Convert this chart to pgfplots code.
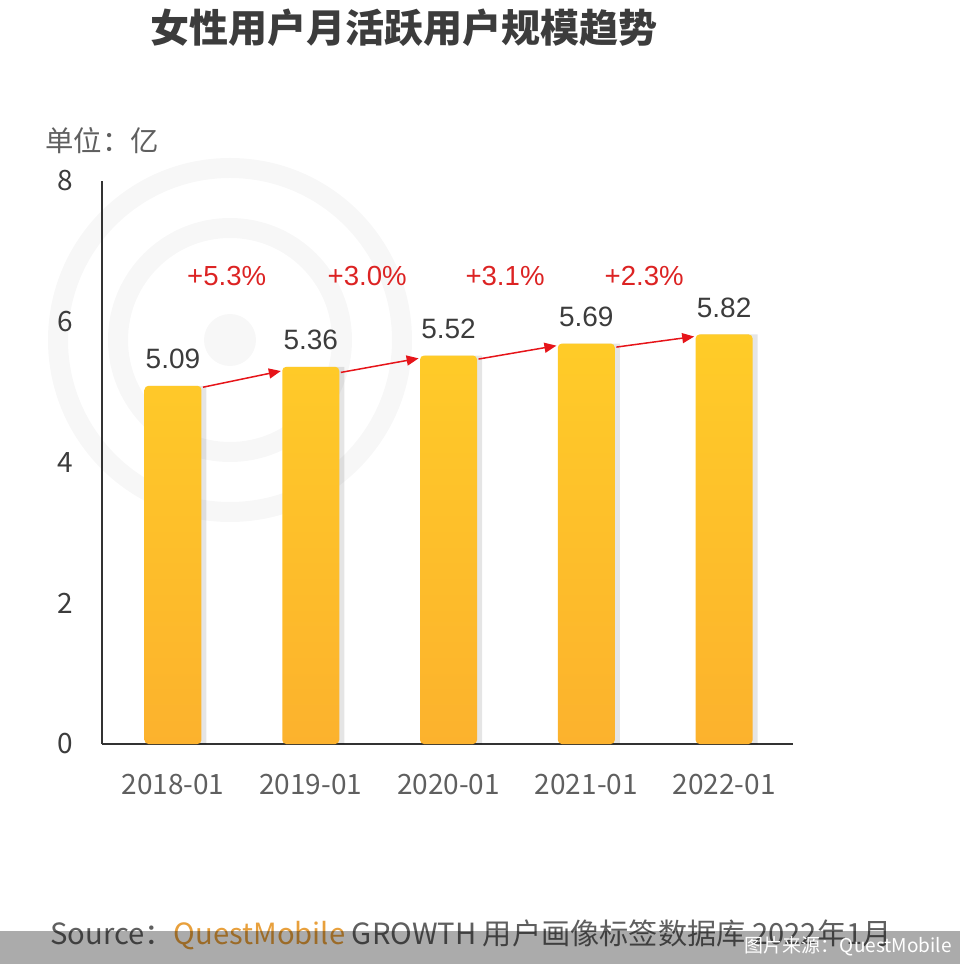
\documentclass[border=0pt]{standalone}
\usepackage{fontspec}
\usepackage{pgfplots}
\pgfplotsset{compat=1.18}
\usetikzlibrary{arrows.meta}
\setmainfont{Noto Sans CJK SC}
\newfontfamily\arial{Liberation Sans}
\definecolor{bartop}{RGB}{255,204,40}
\definecolor{barbot}{RGB}{252,178,45}
\definecolor{arrowred}{RGB}{230,20,25}
\definecolor{pctred}{RGB}{220,35,35}
\definecolor{txtdark}{RGB}{60,60,60}
\definecolor{txtgray}{RGB}{95,95,95}
\definecolor{qmorange}{RGB}{232,160,60}
\definecolor{wmark}{RGB}{247,247,247}

\begin{document}
\begin{tikzpicture}[x=0.5pt,y=0.5pt]
\useasboundingbox (0,0) rectangle (960,964);

% faint watermark rings
\draw[wmark, line width=10pt] (230,624) circle[radius=86pt];
\draw[wmark, line width=10pt] (230,624) circle[radius=56pt];
\fill[wmark] (230,624) circle[radius=13pt];

% title and unit
\node[font=\bfseries\fontsize{19.5}{20}\selectfont, text=txtdark] at (404,936) {女性用户月活跃用户规模趋势};
\node[font=\fontsize{14.2}{15}\selectfont, text=txtgray, anchor=west, inner sep=0] at (45,823) {单位：亿};

\begin{axis}[
  at={(51pt,110pt)}, anchor=south west,
  scale only axis, width=345.5pt, height=281.5pt,
  xmin=-0.515, xmax=4.5, ymin=0, ymax=8,
  axis x line*=bottom, axis y line*=left,
  axis line style={draw=black!80, line width=0.75pt},
  major tick length=0pt,
  xtick=data, xticklabels={2018-01,2019-01,2020-01,2021-01,2022-01},
  ytick={0,2,4,6,8},
  tick label style={font=\fontsize{14}{14}\selectfont},
  xticklabel style={text=txtgray, yshift=-11.5pt},
  yticklabel style={text=txtdark, xshift=-11pt},
  /pgf/number format/assume math mode=true,
  clip=false,
]
% shadow
\addplot[ybar, bar width=28.5pt, bar shift=2.5pt, draw=none, fill=black, opacity=0.10, forget plot]
  coordinates {(0,5.09) (1,5.36) (2,5.52) (3,5.69) (4,5.82)};
% bars
\addplot[ybar, bar width=28.5pt, bar shift=0pt, draw=none, top color=bartop, bottom color=barbot,
  rounded corners=2pt,
  nodes near coords,
  every node near coord/.append style={font=\arial\fontsize{14}{14}\selectfont, text=txtdark,
    anchor=base, inner sep=0pt, yshift=8.5pt}]
  coordinates {(0,5.09) (1,5.36) (2,5.52) (3,5.69) (4,5.82)};
% growth arrows
\addplot[arrowred, line width=0.75pt, -{Triangle[length=6pt,width=5pt]}] coordinates {(0.218,5.07) (0.783,5.30)};
\addplot[arrowred, line width=0.75pt, -{Triangle[length=6pt,width=5pt]}] coordinates {(1.218,5.28) (1.783,5.48)};
\addplot[arrowred, line width=0.75pt, -{Triangle[length=6pt,width=5pt]}] coordinates {(2.218,5.47) (2.783,5.66)};
\addplot[arrowred, line width=0.75pt, -{Triangle[length=6pt,width=5pt]}] coordinates {(3.218,5.64) (3.783,5.79)};
\node[font=\arial\fontsize{13.8}{14}\selectfont, text=pctred] at (axis cs:0.39,6.65) {+5.3\%};
\node[font=\arial\fontsize{13.8}{14}\selectfont, text=pctred] at (axis cs:1.41,6.65) {+3.0\%};
\node[font=\arial\fontsize{13.8}{14}\selectfont, text=pctred] at (axis cs:2.41,6.65) {+3.1\%};
\node[font=\arial\fontsize{13.8}{14}\selectfont, text=pctred] at (axis cs:3.42,6.65) {+2.3\%};
\end{axis}

% source line and footer band
\node[font=\fontsize{14.6}{15}\selectfont, text=txtgray, anchor=west, inner sep=0] at (50,29)
  {Source：\textcolor{qmorange}{QuestMobile} GROWTH 用户画像标签数据库 2022年1月};
\fill[black, opacity=0.33] (0,0) rectangle (960,33);
\node[font=\fontsize{9.5}{10}\selectfont, text=white, anchor=east, inner sep=0] at (952,18) {图片来源：QuestMobile};
\end{tikzpicture}
\end{document}
